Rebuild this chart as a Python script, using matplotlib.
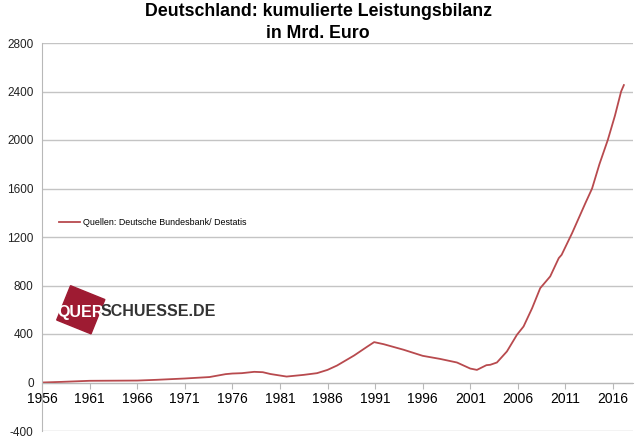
import matplotlib
matplotlib.use("Agg")
import matplotlib.pyplot as plt
from matplotlib.patches import Rectangle

# cumulated current account balance (Mrd. Euro)
years = [1956.0, 1958.0, 1961.0, 1966.0, 1968.0, 1971.0, 1973.6, 1975.3, 1976.0,
         1977.0, 1978.3, 1979.2, 1980.0, 1981.7, 1983.5, 1984.9, 1986.0, 1987.0,
         1988.8, 1990.2, 1990.9, 1991.9, 1994.0, 1996.0, 1997.8, 1999.6, 2001.0,
         2001.7, 2002.7, 2003.1, 2003.8, 2004.85, 2005.9, 2006.6, 2007.5, 2008.35,
         2009.4, 2010.3, 2010.6, 2011.7, 2013.1, 2013.8, 2014.57, 2015.45, 2016.2,
         2016.85, 2017.14]
values = [0, 5, 14, 16, 22, 33, 45, 69, 74,
          77, 88, 85, 70, 49, 63, 77, 104, 140,
          223, 297, 333, 316, 270, 220, 195, 165, 115,
          104, 143, 146, 165, 256, 393, 462, 613, 778,
          875, 1026, 1053, 1232, 1480, 1600, 1800, 2000, 2200,
          2400, 2453]

x_ticks = list(range(1956, 2017, 5))
y_ticks = list(range(-400, 2801, 400))

title_1 = "Deutschland: kumulierte Leistungsbilanz"
title_2 = "in Mrd. Euro"
legend_label = "Quellen: Deutsche Bundesbank/ Destatis"

plt.rcParams['font.family'] = ['Liberation Sans', 'DejaVu Sans']

fig = plt.figure(figsize=(6.4, 4.43), dpi=100)
ax = fig.add_axes([42 / 640, 1 - 431 / 443, (633 - 42) / 640, (431 - 43) / 443])

ax.plot(years, values, color="#b84a4e", lw=1.3, label=legend_label)

ax.set_xlim(1956, 2018.1)
ax.set_ylim(-400, 2800)
ax.set_yticks(y_ticks)
ax.set_xticks(x_ticks)
ax.set_xticklabels([str(x) for x in x_ticks], fontsize=8.5, color="#222222")
ax.set_yticklabels([str(y) for y in y_ticks], fontsize=8.5, color="#222222")

ax.grid(axis="y", color="#c4c4c4", lw=1)
ax.set_axisbelow(True)
for s in ["top", "right"]:
    ax.spines[s].set_visible(False)
ax.spines["left"].set_color("#b8b8b8")
ax.spines["bottom"].set_color("#b8b8b8")
ax.spines["bottom"].set_position(("data", 0))
ax.tick_params(axis="x", direction="out", length=4, color="#b8b8b8", pad=3)
ax.tick_params(axis="y", length=0, pad=6)

ax.legend(loc="upper left", bbox_to_anchor=(0.015, 0.57), frameon=False,
          fontsize=6.4, handlelength=2.4, handletextpad=0.3)

fig.text(0.497, 1 - 12 / 443, title_1, ha="center", va="center", fontsize=12.8,
         fontweight="bold")
fig.text(0.497, 1 - 34 / 443, title_2, ha="center", va="center", fontsize=12.8,
         fontweight="bold")

# logo
fig.patches.append(Rectangle((0.567, (443 - 320) / 100), 0.37, 0.37, angle=-22,
                             color="#9e1b32", transform=fig.dpi_scale_trans, zorder=5))
fig.text(57 / 640, 1 - 312 / 443, "QUER", color="white", fontsize=11.5,
         fontweight="bold", va="center", ha="left", zorder=6)
fig.text(101 / 640, 1 - 312 / 443, "SCHUESSE.DE", color="#333333", fontsize=11.5,
         fontweight="bold", va="center", ha="left", zorder=6)

fig.savefig("out.png", dpi=100)
